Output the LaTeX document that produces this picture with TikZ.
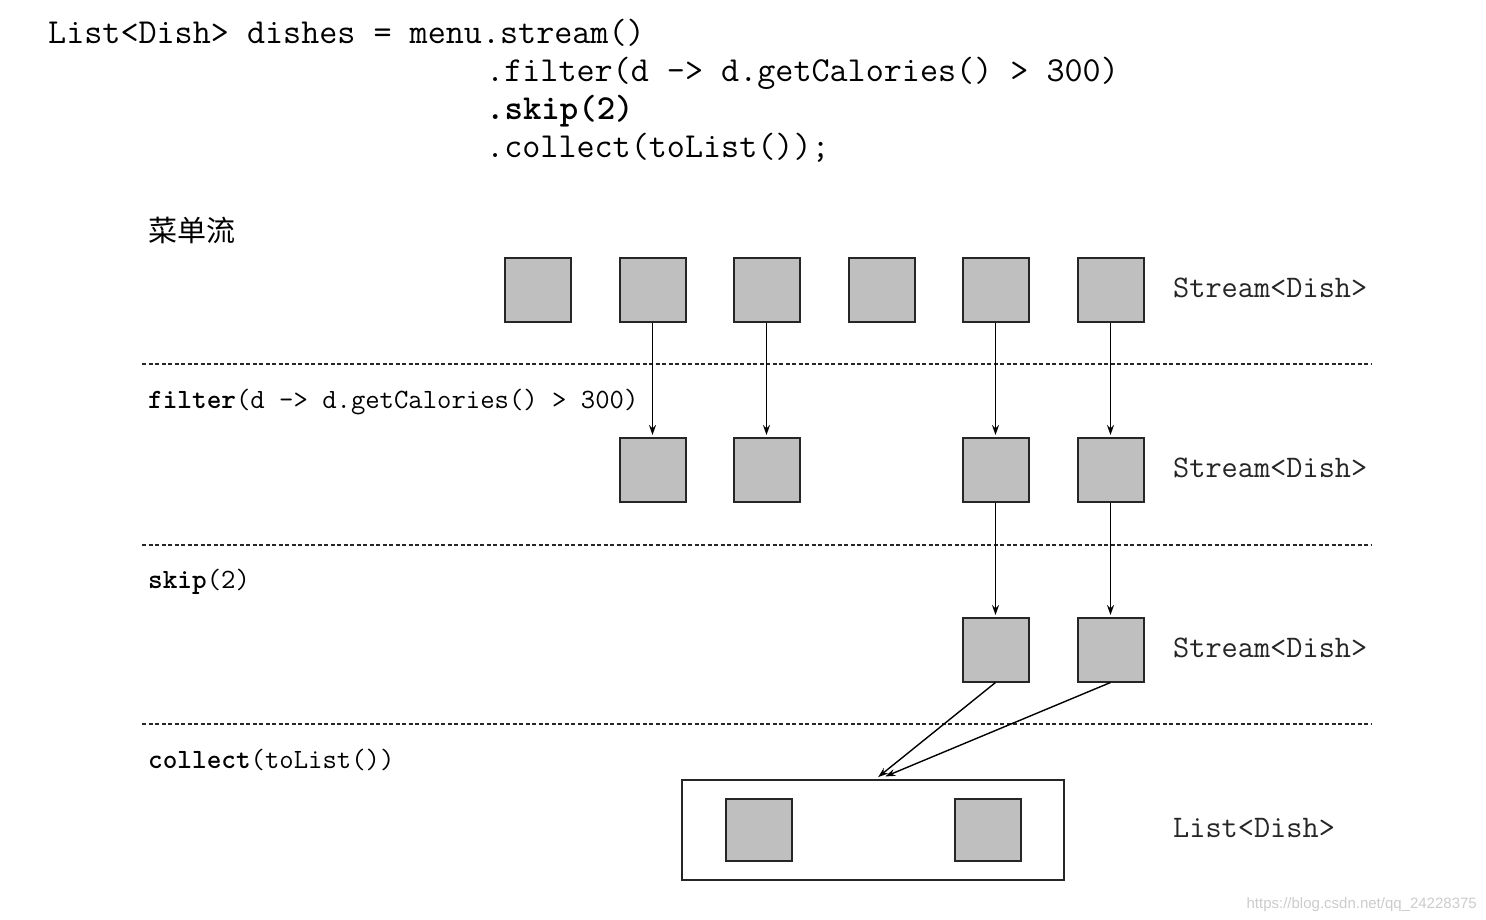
\documentclass[tikz,border=0pt]{standalone}
\usepackage{fontspec}
\newfontfamily\cjk{Noto Sans CJK SC}
\newfontfamily\wmfont{Liberation Sans}
\usetikzlibrary{arrows.meta}
\begin{document}
\begin{tikzpicture}[x=1pt,y=-1pt,
  dish/.style={draw=black!85,line width=2pt,fill=black!25,minimum width=66pt,minimum height=64pt,inner sep=0pt},
  sep/.style={line width=1.3pt,dash pattern=on 4pt off 2.5pt,black!85},
  flow/.style={line width=1.4pt,shorten >=1.5pt,-{Stealth[length=10pt,width=7pt]}},
  code/.style={anchor=base west,inner sep=0pt,font=\ttfamily\fontsize{35.1}{35.1}\selectfont},
  lbl/.style={anchor=base west,inner sep=0pt,font=\ttfamily\fontsize{27.9}{27.9}\selectfont},
  typ/.style={anchor=base west,inner sep=0pt,font=\ttfamily\fontsize{31.4}{31.4}\selectfont,black!85}]
\useasboundingbox (0,0) rectangle (1486,920);
\fill[white] (0,0) rectangle (1486,920);
% code
\node[code] (c1) at (48,44) {List<Dish> dishes = menu.stream()};
\node[code] (c2) at (486,82) {.filter(d -> d.getCalories() > 300)};
\node[code] (c3) at (486,120) {\bfseries .skip(2)};
\node[code] (c4) at (486,158) {.collect(toList());};
% title
\node[anchor=base west,inner sep=0pt,font=\cjk\fontsize{29}{29}\selectfont] (t) at (148,242) {菜单流};
% separators
\draw[sep] (142,364) -- (1371,364);
\draw[sep] (142,545) -- (1371,545);
\draw[sep] (142,724) -- (1371,724);
% labels
\node[lbl] (l1) at (148,408) {\textbf{filter}(d -> d.getCalories() > 300)};
\node[lbl] (l2) at (148,588) {\textbf{skip}(2)};
\node[lbl] (l3) at (148,768) {\textbf{collect}(toList())};
\node[typ] (s1) at (1173,297) {Stream<Dish>};
\node[typ] (s2) at (1173,477) {Stream<Dish>};
\node[typ] (s3) at (1173,657) {Stream<Dish>};
\node[typ] (s4) at (1173,837) {List<Dish>};
% row 1
\node[dish] (a1) at (537.5,289.5) {};
\node[dish] (a2) at (652.5,289.5) {};
\node[dish] (a3) at (766.5,289.5) {};
\node[dish] (a4) at (881.5,289.5) {};
\node[dish] (a5) at (995.5,289.5) {};
\node[dish] (a6) at (1110.5,289.5) {};
% row 2
\node[dish] (b2) at (652.5,469.5) {};
\node[dish] (b3) at (766.5,469.5) {};
\node[dish] (b5) at (995.5,469.5) {};
\node[dish] (b6) at (1110.5,469.5) {};
% row 3
\node[dish] (d5) at (995.5,649.5) {};
\node[dish] (d6) at (1110.5,649.5) {};
% list
\node[draw=black!85,line width=2pt,minimum width=382pt,minimum height=100pt,inner sep=0pt] (lst) at (872.5,829.5) {};
\node[dish,minimum height=62pt] (e1) at (758.5,829.5) {};
\node[dish,minimum height=62pt] (e2) at (987.5,829.5) {};
\coordinate (in1) at (877,778);
\coordinate (in2) at (884,777);
% arrows
\draw[flow] (a2.south) -- (b2.north);
\draw[flow] (a3.south) -- (b3.north);
\draw[flow] (a5.south) -- (b5.north);
\draw[flow] (a6.south) -- (b6.north);
\draw[flow] (b5.south) -- (d5.north);
\draw[flow] (b6.south) -- (d6.north);
\draw[flow] (d5.south) -- (in1);
\draw[flow] (d6.south) -- (in2);
% watermark
\node[anchor=base east,inner sep=0pt,font=\wmfont\fontsize{15}{15}\selectfont,black!20] (wm) at (1477,908) {https://blog.csdn.net/qq\_24228375};
\end{tikzpicture}
\end{document}
